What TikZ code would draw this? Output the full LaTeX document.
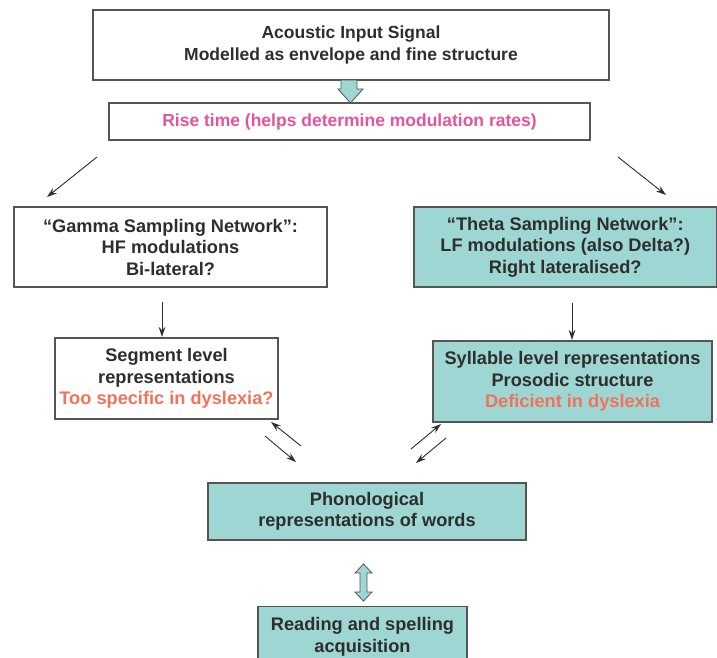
\documentclass[tikz,border=0pt]{standalone}
\usepackage{fontspec}
\setmainfont{Liberation Sans}
\usetikzlibrary{arrows.meta,calc}
\definecolor{teal1}{HTML}{9DD6D2}
\definecolor{txt}{HTML}{2E2E2E}
\definecolor{pinkt}{HTML}{E2549C}
\definecolor{oranget}{HTML}{F0735A}
\definecolor{edge}{HTML}{555555}
\tikzset{
  box/.style={draw=edge, line width=1.2pt, fill=white, rectangle, align=center, inner sep=0pt,
    font=\bfseries\fontsize{18.2}{21.5}\selectfont, text=txt},
  tbox/.style={box, fill=teal1},
  conn/.style={draw=txt, line width=0.9pt, -{Stealth[length=10pt,width=6.5pt]}},
  blockarrow/.style={draw=edge, line width=0.8pt, fill=teal1}
}
\begin{document}
\begin{tikzpicture}[x=1pt,y=-1pt]
\clip (0,0) rectangle (717,657);
\useasboundingbox (0,0) rectangle (717,657);
\node[box, minimum width=516pt, minimum height=70pt, font=\bfseries\fontsize{17.5}{22}\selectfont] (top) at (351,45) {Acoustic Input Signal\\Modelled as envelope and fine structure};
\node[box, minimum width=481pt, minimum height=37pt, text=pinkt, font=\bfseries\fontsize{17.5}{22}\selectfont] (rise) at (349.5,121.5) {Rise time (helps determine modulation rates)};
\node[box, minimum width=313pt, minimum height=80pt] (gamma) at (170.5,247) {``Gamma Sampling Network'':\\HF modulations\\Bi-lateral?};
\node[tbox, minimum width=302.5pt, minimum height=80pt] (theta) at (565.25,247) {``Theta Sampling Network'':\\LF modulations (also Delta?)\\Right lateralised?};
\node[box, minimum width=223pt, minimum height=81pt] (seg) at (166.5,378.5) {Segment level\\representations\\\textcolor{oranget}{Too specific in dyslexia?}};
\node[tbox, minimum width=279pt, minimum height=81pt] (syl) at (572.5,381.5) {Syllable level representations\\Prosodic structure\\\textcolor{oranget}{Deficient in dyslexia}};
\node[tbox, minimum width=318pt, minimum height=57pt] (phon) at (367,511.5) {Phonological\\representations of words};
\node[tbox, minimum width=209pt, minimum height=60pt, anchor=north] (read) at (362.5,606) {Reading and spelling\\acquisition};
% block arrow down
\path[blockarrow] (341,80) -- (357,80) -- (357,89) -- (363,89) -- (350.5,103) -- (338,89) -- (341,89) -- cycle;
% double block arrow
\path[blockarrow] (363.5,564) -- (372,573) -- (367,573) -- (367,592) -- (372,592) -- (363.5,601) -- (355,592) -- (360,592) -- (360,573) -- (355,573) -- cycle;
% connectors
\coordinate (l1) at (97,157); \coordinate (l2) at (47,197);
\coordinate (r1) at (618,157); \coordinate (r2) at (666,195);
\coordinate (g1) at (162,302); \coordinate (g2) at (162,337);
\coordinate (t1) at (572,303); \coordinate (t2) at (572,340);
\draw[conn] (l1) -- (l2);
\draw[conn] (r1) -- (r2);
\draw[conn] (g1) -- (g2);
\draw[conn] (t1) -- (t2);
\coordinate (a1) at (301,446); \coordinate (a2) at (271,422);
\coordinate (b1) at (265,436); \coordinate (b2) at (296,462);
\coordinate (c1) at (411,449); \coordinate (c2) at (441,424);
\coordinate (d1) at (446,438); \coordinate (d2) at (416,463);
\draw[conn] (a1) -- (a2);
\draw[conn] (b1) -- (b2);
\draw[conn] (c1) -- (c2);
\draw[conn] (d1) -- (d2);
\end{tikzpicture}
\end{document}
